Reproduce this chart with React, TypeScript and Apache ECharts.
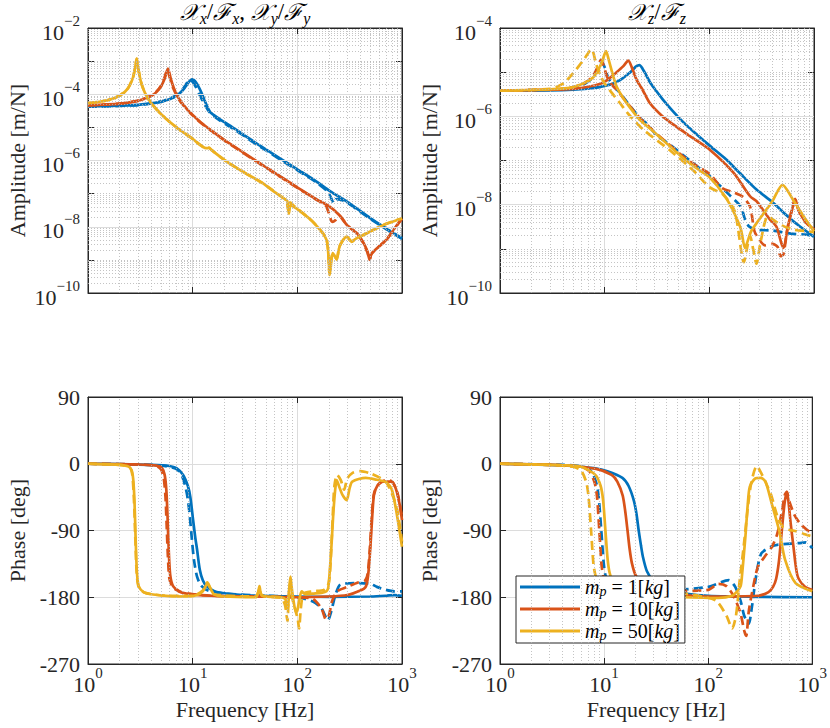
import { useEffect, useRef } from "react";
import * as echarts from "echarts";

type P = [number, number][];

const BLUE = "#0072BD";
const ORANGE = "#D95319";
const YELLOW = "#EDB120";
const FONT = "'Liberation Serif', 'Times New Roman', serif";
const INK = "#262626";

const massLabels = ["1", "10", "50"];
const freqTickExps = [0, 1, 2, 3];
const ampXYTickExps = [-10, -8, -6, -4, -2];
const ampZTickExps = [-10, -8, -6, -4];
const phaseTicks = [-270, -180, -90, 0, 90];

// ---------- Amplitude X/Y (top-left) ----------
const ampXY_m1: P = [[1,4.3e-5],[2,4.5e-5],[3,4.8e-5],[4,5.3e-5],[5,6.0e-5],[6,7.1e-5],[7,8.9e-5],[8,1.3e-4],[8.6,1.75e-4],[9.2,2.35e-4],[9.8,2.8e-4],[10.4,2.6e-4],[11,2.05e-4],[12,1.2e-4],[13,6.5e-5],[14.6,3.0e-5],[18,1.8e-5],[24,1.0e-5],[30,6.3e-6],[40,3.4e-6],[55,1.78e-6],[70,1.1e-6],[100,5.4e-7],[150,2.4e-7],[205,1.2e-7],[300,5.6e-8],[500,1.8e-8],[700,9.1e-9],[1000,4.5e-9]];
const ampXY_m1_d: P = [[1,4.2e-5],[3,4.7e-5],[5,6.0e-5],[7,9.3e-5],[8,1.4e-4],[8.6,1.95e-4],[9.1,2.5e-4],[9.5,2.65e-4],[10,2.35e-4],[10.8,1.6e-4],[11.5,1.05e-4],[12.5,6.2e-5],[14.6,2.8e-5],[18,1.65e-5],[24,9.3e-6],[30,5.9e-6],[40,3.2e-6],[55,1.68e-6],[70,1.03e-6],[100,5.1e-7],[150,2.25e-7],[195,1.15e-7],[210,7.5e-8],[222,5.2e-8],[235,6.8e-8],[260,6.6e-8],[300,5.3e-8],[500,1.72e-8],[700,8.7e-9],[1000,4.3e-9]];
const ampXY_m10: P = [[1,4.6e-5],[2,5.2e-5],[3,6.3e-5],[4,8.8e-5],[4.5,1.16e-4],[5,1.75e-4],[5.4,3.0e-4],[5.8,5.9e-4],[6.2,2.8e-4],[6.6,1.55e-4],[7.5,6.8e-5],[9,3.3e-5],[10,2.35e-5],[12,1.4e-5],[15,8.1e-6],[20,4.2e-6],[30,1.8e-6],[50,6.3e-7],[70,3.2e-7],[100,1.55e-7],[150,6.9e-8],[205,4.0e-8],[250,2.3e-8],[300,1.1e-8],[372,6.3e-9],[430,3.2e-9],[470,1.7e-9],[490,1.0e-9],[510,1.5e-9],[600,2.5e-9],[708,4.0e-9],[850,9.0e-9],[1000,1.78e-8]];
const ampXY_m10_d: P = [[1,4.6e-5],[2,5.2e-5],[3,6.4e-5],[4,9.0e-5],[4.5,1.2e-4],[5,1.85e-4],[5.35,3.0e-4],[5.7,5.2e-4],[6.1,2.9e-4],[6.5,1.55e-4],[7.5,6.5e-5],[9,3.2e-5],[10,2.3e-5],[12,1.35e-5],[15,7.9e-6],[20,4.1e-6],[30,1.75e-6],[50,6.1e-7],[70,3.1e-7],[100,1.5e-7],[150,6.7e-8],[185,4.6e-8],[200,2.6e-8],[215,1.4e-8],[232,1.6e-8],[250,2.2e-8],[300,1.1e-8],[372,6.2e-9],[430,3.1e-9],[470,1.6e-9],[490,1.0e-9],[510,1.5e-9],[600,2.5e-9],[708,4.0e-9],[850,8.8e-9],[1000,1.75e-8]];
const ampXY_m50: P = [[1,5.4e-5],[1.5,6.5e-5],[2,9.0e-5],[2.4,1.48e-4],[2.7,3.3e-4],[2.85,7.8e-4],[2.92,1.2e-3],[3.0,6.9e-4],[3.2,2.4e-4],[3.5,1.1e-4],[4,5.5e-5],[5,2.5e-5],[7,1.0e-5],[10,4.5e-6],[13.5,2.35e-6],[14.3,2.4e-6],[15.2,2.05e-6],[20,1.05e-6],[30,4.6e-7],[47,2.05e-7],[60,1.15e-7],[75,7.0e-8],[80,6.0e-8],[83,2.5e-8],[86,4.5e-8],[90,4.2e-8],[99,3.5e-8],[141,1.4e-8],[190,4.0e-9],[204,3.5e-10],[212,1.0e-9],[218,1.6e-9],[228,1.3e-9],[238,1.0e-9],[250,2.2e-9],[263,3.2e-9],[295,5.0e-9],[331,3.5e-9],[360,4.3e-9],[427,5.6e-9],[661,1.12e-8],[1000,1.78e-8]];
const ampXY_m50_d: P = [[1,5.4e-5],[1.5,6.5e-5],[2,9.1e-5],[2.4,1.5e-4],[2.7,3.4e-4],[2.85,8.0e-4],[2.92,1.18e-3],[3.0,6.8e-4],[3.2,2.4e-4],[3.5,1.1e-4],[4,5.5e-5],[5,2.5e-5],[7,1.0e-5],[10,4.5e-6],[13.5,2.35e-6],[14.3,2.45e-6],[15.2,2.05e-6],[20,1.05e-6],[30,4.6e-7],[47,2.05e-7],[60,1.15e-7],[75,7.0e-8],[79,6.2e-8],[82,3.0e-8],[85,5.5e-8],[92,4.4e-8],[100,3.5e-8],[141,1.4e-8],[190,4.2e-9],[203,4.0e-10],[211,1.1e-9],[218,1.5e-9],[229,1.2e-9],[238,1.1e-9],[250,2.3e-9],[263,3.3e-9],[295,5.1e-9],[331,3.6e-9],[360,4.4e-9],[427,5.7e-9],[661,1.13e-8],[1000,1.8e-8]];

// ---------- Amplitude Z (top-right) ----------
const ampZ_m1: P = [[1,3.8e-6],[3,3.85e-6],[5,4.0e-6],[8,4.4e-6],[10,4.9e-6],[12,5.5e-6],[14,6.6e-6],[16,8.3e-6],[18,1.05e-5],[20,1.35e-5],[21.5,1.45e-5],[23,1.2e-5],[25,8.5e-6],[27,6.0e-6],[30,4.2e-6],[36,2.4e-6],[45,1.3e-6],[56,7.5e-7],[70,4.6e-7],[100,2.2e-7],[145,1.05e-7],[195,5.2e-8],[282,2.2e-8],[400,1.15e-8],[513,6.6e-9],[700,3.5e-9],[1000,1.86e-9]];
const ampZ_m1_d: P = [[1,3.8e-6],[4,4.15e-6],[6,5.0e-6],[7.5,7.0e-6],[8.5,1.1e-5],[9.4,1.7e-5],[10,1.3e-5],[10.8,7.5e-6],[12,5.0e-6],[14,3.4e-6],[17.4,1.75e-6],[22,9.0e-7],[25,7.0e-7],[32,3.6e-7],[42,2.3e-7],[65,1.0e-7],[100,4.5e-8],[158,1.6e-8],[200,9.0e-9],[220,4.5e-9],[240,3.2e-9],[282,2.7e-9],[400,2.6e-9],[600,2.2e-9],[850,2.1e-9],[1000,1.9e-9]];
const ampZ_m10: P = [[1,3.85e-6],[5,4.2e-6],[8,5.0e-6],[10,6.0e-6],[13,1.0e-5],[15,1.35e-5],[16.8,1.82e-5],[18.5,1.15e-5],[20.2,6.7e-6],[23,4.0e-6],[27,2.0e-6],[35,1.05e-6],[48,5.9e-7],[70,3.2e-7],[101,1.75e-7],[170,5.3e-8],[245,1.55e-8],[282,1.2e-8],[380,4.6e-9],[437,3.2e-9],[490,1.3e-9],[513,1.05e-9],[560,3.0e-9],[620,8.0e-9],[660,1.35e-8],[720,7.0e-9],[850,3.8e-9],[1000,2.75e-9]];
const ampZ_m10_d: P = [[1,3.8e-6],[4,4.2e-6],[6,5.2e-6],[7.5,7.5e-6],[8.5,1.25e-5],[9.2,1.9e-5],[9.8,1.4e-5],[10.5,8.0e-6],[11.5,5.5e-6],[13,4.0e-6],[17.4,1.7e-6],[22,8.8e-7],[29,4.8e-7],[42,2.2e-7],[65,9.5e-8],[100,5.0e-8],[132,2.4e-8],[170,1.9e-8],[209,1.5e-8],[245,9.0e-9],[270,2.5e-9],[300,1.6e-9],[340,1.2e-9],[400,1.3e-9],[450,1.1e-9],[480,6.8e-10],[510,7.5e-10],[560,3.0e-9],[620,8.5e-9],[660,1.3e-8],[720,7.0e-9],[850,3.8e-9],[1000,2.75e-9]];
const ampZ_m50: P = [[1,3.8e-6],[3,4.1e-6],[5,4.6e-6],[7.2,6.6e-6],[8.5,1.0e-5],[9.5,1.8e-5],[10.3,3.0e-5],[11,1.8e-5],[12,8.5e-6],[13,4.7e-6],[15,2.6e-6],[17.4,1.6e-6],[21.7,8.3e-7],[29,4.6e-7],[42,2.1e-7],[60,1.0e-7],[82,5.8e-8],[100,4.2e-8],[140,1.6e-8],[170,7.0e-9],[200,2.8e-9],[219,1.05e-9],[235,1.6e-9],[251,2.5e-9],[316,5.5e-9],[400,1.2e-8],[500,2.8e-8],[630,1.3e-8],[794,5.5e-9],[1000,2.5e-9]];
const ampZ_m50_d: P = [[1,3.8e-6],[3,4.2e-6],[4,5.5e-6],[5,9.5e-6],[6.3,1.9e-5],[7.5,3.3e-5],[8.3,1.5e-5],[9.2,8.0e-6],[10,5.5e-6],[14,2.0e-6],[17,1.1e-6],[23.4,5.0e-7],[42,1.7e-7],[70,6.0e-8],[100,2.5e-8],[135,1.7e-8],[175,7.0e-9],[214,5.0e-10],[232,1.2e-9],[245,2.0e-9],[262,1.0e-9],[282,4.6e-10],[310,1.5e-9],[363,5.4e-9],[480,3.5e-9],[630,2.75e-9],[850,2.5e-9],[1000,2.4e-9]];

// ---------- Phase X/Y (bottom-left) ----------
const phXY_m1: P = [[1,0],[2,-0.5],[4,-1.5],[6,-3],[7,-6],[8.1,-15],[9,-30],[9.5,-45],[10.1,-76],[10.6,-100],[11,-115],[11.7,-143],[12.5,-157],[13.6,-165],[17,-173],[30,-177],[60,-178.5],[100,-179],[200,-179.5],[500,-179],[700,-178],[850,-177],[1000,-178]];
const phXY_m1_d: P = [[1,0],[3,-1],[5,-2.5],[7,-7],[8,-18],[8.8,-40],[9.3,-65],[9.8,-100],[10.3,-130],[11,-152],[12,-164],[14,-171],[20,-175],[50,-178],[100,-180],[142,-186],[170,-195],[196,-211],[210,-200],[230,-178],[257,-163],[350,-161],[500,-162],[575,-166],[700,-170],[850,-172],[1000,-172]];
const phXY_m10: P = [[1,0],[3,-1],[4.5,-2.5],[5.1,-6],[5.4,-15],[5.6,-35],[5.75,-70],[5.9,-115],[6.1,-150],[6.5,-165],[7.5,-172],[8.7,-175],[15,-178],[40,-179],[100,-180],[200,-179],[300,-177],[400,-171],[450,-166],[475,-150],[500,-110],[520,-70],[540,-42],[580,-30],[660,-24],[800,-24],[880,-35],[950,-55],[1000,-76]];
const phXY_m10_d: P = [[1,0],[3,-1],[4.5,-3],[5.0,-8],[5.3,-20],[5.5,-45],[5.65,-85],[5.8,-125],[6.0,-155],[6.5,-167],[8,-174],[15,-178],[50,-179],[100,-180],[140,-182],[170,-195],[188,-210],[200,-205],[215,-185],[240,-172],[300,-166],[380,-160],[440,-158],[470,-148],[495,-110],[515,-70],[540,-40],[600,-27],[700,-22],[800,-24],[900,-38],[1000,-72]];
const phXY_m50: P = [[1,0],[1.5,-0.8],[2,-1.5],[2.4,-3.5],[2.6,-8],[2.7,-20],[2.78,-50],[2.85,-100],[2.93,-145],[3.05,-165],[3.4,-173],[4,-176],[6,-178.5],[9,-179],[11,-177],[12.5,-172],[13.8,-162],[14.5,-166],[16,-176],[20,-179],[40,-180],[42,-175],[43.5,-165],[45,-176],[50,-179],[70,-180],[77,-183],[81,-195],[84,-165],[86,-152],[88,-165],[92,-185],[97,-200],[100,-198],[104,-185],[110,-172],[120,-176],[140,-175],[170,-174],[190,-172],[198,-166],[210,-120],[220,-70],[230,-35],[238,-22],[250,-30],[270,-42],[296,-49],[316,-33],[335,-24],[450,-19],[550,-21],[708,-25],[800,-35],[890,-67],[1000,-112]];
const phXY_m50_d: P = [[1,0],[2,-1.5],[2.5,-5],[2.65,-15],[2.75,-50],[2.83,-100],[2.92,-148],[3.05,-166],[3.5,-174],[6,-178],[10,-178],[12.5,-171],[13.8,-160],[14.8,-168],[16,-176],[40,-179],[43.5,-168],[46,-178],[70,-181],[76,-190],[79,-205],[80.5,-212],[83,-175],[86,-160],[89,-180],[95,-195],[101,-210],[104,-222],[108,-195],[115,-175],[140,-172],[180,-170],[200,-160],[210,-120],[218,-70],[226,-30],[240,-15],[260,-22],[280,-35],[300,-20],[340,-12],[400,-10],[500,-13],[600,-18],[700,-24],[800,-40],[900,-62],[1000,-105]];

// ---------- Phase Z (bottom-right) ----------
const phZ_m1: P = [[1,0],[3,-1.5],[5,-3],[8,-6],[10.75,-10],[15,-19],[17.2,-30],[19.35,-50],[20.5,-68],[21.5,-90],[22.6,-110],[23.65,-126],[25.8,-145],[30,-159],[35,-166],[43,-171],[60,-175],[100,-178],[300,-179.5],[1000,-180]];
const phZ_m1_d: P = [[1,0],[4,-1.5],[6,-3.5],[7.5,-10],[8.5,-28],[8.9,-47],[9.4,-90],[9.9,-133],[10.3,-150],[11.3,-163],[14,-170],[20,-171],[50,-170],[100,-166],[158,-157],[182,-166],[205,-185],[222,-205],[245,-216],[262,-195],[290,-150],[324,-121],[400,-112],[473,-109],[741,-107],[870,-106],[1000,-114]];
const phZ_m10: P = [[1,0],[4,-2],[8.4,-7],[11.8,-15],[13.4,-24],[15.1,-43],[16,-65],[16.8,-90],[17.6,-115],[18.5,-134],[20.2,-151],[25,-165],[34,-173],[60,-177],[100,-179],[300,-178],[380,-173],[420,-166],[450,-155],[480,-130],[510,-90],[540,-55],[569,-38],[590,-50],[620,-80],[660,-112],[724,-152],[850,-166],[1000,-170]];
const phZ_m10_d: P = [[1,0],[4,-2],[6,-4],[7.2,-10],[8.1,-25],[8.55,-44],[9,-90],[9.45,-136],[9.9,-153],[10.8,-164],[13.5,-172],[20,-174],[40,-172],[100,-170],[126,-162],[150,-165],[175,-178],[204,-201],[222,-225],[232,-232],[245,-200],[263,-175],[300,-139],[350,-125],[410,-112],[460,-95],[510,-65],[545,-42],[570,-38],[600,-50],[680,-70],[780,-82],[1000,-95]];
const phZ_m50: P = [[1,0],[4,-2],[6,-4],[8.24,-15],[9.27,-30],[9.8,-50],[10.3,-90],[10.8,-128],[11.3,-147],[12.4,-161],[15.5,-171.5],[20.6,-176],[42,-179],[126,-181],[170,-178],[190,-172],[205,-165],[211,-152],[228,-98],[240,-55],[251,-31],[282,-20],[320,-19],[355,-24],[407,-53],[479,-89],[550,-130],[692,-161],[1000,-172]];
const phZ_m50_d: P = [[1,0],[3,-1.5],[5,-4],[6,-9],[6.75,-25],[7.1,-45],[7.5,-90],[7.9,-135],[8.25,-150],[9,-163],[11.3,-170],[20,-172],[50,-174],[87,-179],[120,-185],[150,-205],[170,-222],[185,-205],[200,-160],[220,-110],[240,-60],[260,-25],[293,-3],[330,-15],[370,-30],[407,-44],[460,-70],[520,-85],[600,-89],[700,-91],[850,-95],[1000,-98]];

const panels: { solid: P[]; dashed: P[] }[] = [
  { solid: [ampXY_m1, ampXY_m10, ampXY_m50], dashed: [ampXY_m1_d, ampXY_m10_d, ampXY_m50_d] },
  { solid: [ampZ_m1, ampZ_m10, ampZ_m50], dashed: [ampZ_m1_d, ampZ_m10_d, ampZ_m50_d] },
  { solid: [phXY_m1, phXY_m10, phXY_m50], dashed: [phXY_m1_d, phXY_m10_d, phXY_m50_d] },
  { solid: [phZ_m1, phZ_m10, phZ_m50], dashed: [phZ_m1_d, phZ_m10_d, phZ_m50_d] },
];
const colors = [BLUE, ORANGE, YELLOW];

const grids = [
  { left: 88, top: 28, width: 314, height: 265 },
  { left: 500, top: 28, width: 314, height: 265 },
  { left: 88, top: 397, width: 314, height: 267 },
  { left: 500, top: 397, width: 314, height: 267 },
];

const fmtExp = (e: number) => (e < 0 ? "\u2212" + Math.abs(e) : String(e));
const expRich = {
  b: { fontFamily: FONT, fontSize: 22, color: INK, lineHeight: 30, verticalAlign: "bottom" },
  e: { fontFamily: FONT, fontSize: 15, color: INK, lineHeight: 10, verticalAlign: "top" },
};

const decadeMinors = (lo: number, hi: number) => {
  const out: number[] = [];
  for (let k = lo; k < hi; k++) for (let m = 2; m <= 9; m++) out.push(m * Math.pow(10, k));
  return out;
};

const minorStyle = { type: [1, 2], color: "#b5b5b5", width: 0.8 };
const majorStyle = { type: "solid", color: "#dcdcdc", width: 1 };

function gridSeries(idx: number, yRange: [number, number], yMinor: number[], yMajor: number[]) {
  const xLo = Math.pow(10, freqTickExps[0]);
  const xHi = Math.pow(10, freqTickExps[freqTickExps.length - 1]);
  const xMinor = decadeMinors(freqTickExps[0], freqTickExps[freqTickExps.length - 1]);
  const vLine = (v: number, ls: any) => [{ coord: [v, yRange[0]], lineStyle: ls }, { coord: [v, yRange[1]] }];
  const hLine = (v: number, ls: any) => [{ coord: [xLo, v], lineStyle: ls }, { coord: [xHi, v] }];
  return {
    type: "line",
    xAxisIndex: idx,
    yAxisIndex: idx,
    data: [],
    silent: true,
    z: 1,
    markLine: {
      silent: true,
      symbol: ["none", "none"],
      label: { show: false },
      animation: false,
      emphasis: { disabled: true },
      data: [
        ...xMinor.map((v) => vLine(v, minorStyle)),
        ...yMinor.map((v) => hLine(v, minorStyle)),
        ...yMajor.map((v) => hLine(v, majorStyle)),
      ],
    },
  };
}

function lineSeries(name: string, data: P, color: string, dashed: boolean, idx: number) {
  return {
    type: "line",
    name,
    data,
    xAxisIndex: idx,
    yAxisIndex: idx,
    symbol: "none",
    showSymbol: false,
    smooth: 0.25,
    silent: true,
    z: 3,
    clip: true,
    lineStyle: { color, width: 2.7, type: dashed ? [9, 5] : "solid", cap: "butt" },
    itemStyle: { color },
    emphasis: { disabled: true },
  };
}

function buildOption() {
  const series: any[] = [];
  const xyOdd = ampXYTickExps.slice(0, -1).map((e) => Math.pow(10, e + 1));
  const zOdd = ampZTickExps.slice(0, -1).map((e) => Math.pow(10, e + 1));
  const xyRange: [number, number] = [Math.pow(10, ampXYTickExps[0]), Math.pow(10, ampXYTickExps[ampXYTickExps.length - 1])];
  const zRange: [number, number] = [Math.pow(10, ampZTickExps[0]), Math.pow(10, ampZTickExps[ampZTickExps.length - 1])];
  const phRange: [number, number] = [phaseTicks[0], phaseTicks[phaseTicks.length - 1]];
  series.push(gridSeries(0, xyRange, [...decadeMinors(-10, -2), ...xyOdd], ampXYTickExps.slice(1, -1).map((e) => Math.pow(10, e))));
  series.push(gridSeries(1, zRange, [...decadeMinors(-10, -4), ...zOdd], ampZTickExps.slice(1, -1).map((e) => Math.pow(10, e))));
  series.push(gridSeries(2, phRange, [], []));
  series.push(gridSeries(3, phRange, [], []));

  panels.forEach((p, idx) => {
    for (let k = 0; k < 3; k++) {
      series.push(lineSeries("mp" + massLabels[k], p.solid[k], colors[k], false, idx));
      series.push(lineSeries("mp" + massLabels[k] + "d", p.dashed[k], colors[k], true, idx));
    }
  });

  const nameStyle = { fontFamily: FONT, fontSize: 22, color: INK };
  const tickStyle = { show: true, inside: true, length: 6, lineStyle: { color: INK, width: 1 } };
  const lineAx = { show: true, onZero: false, lineStyle: { color: INK, width: 1 } };

  const xMain = grids.map((_, i) => ({
    type: "log",
    logBase: 10,
    gridIndex: i,
    position: "bottom",
    min: Math.pow(10, freqTickExps[0]),
    max: Math.pow(10, freqTickExps[freqTickExps.length - 1]),
    axisLine: lineAx,
    axisTick: tickStyle,
    axisLabel: {
      show: i >= 2,
      margin: 1,
      showMinLabel: true,
      showMaxLabel: true,
      formatter: (v: number) => `{b|10}{e|${fmtExp(Math.round(Math.log10(v)))}}`,
      rich: expRich,
    },
    splitLine: { show: true, lineStyle: { color: "#dcdcdc", width: 1 } },
    name: i >= 2 ? "Frequency [Hz]" : "",
    nameLocation: "middle",
    nameGap: 34,
    nameTextStyle: nameStyle,
  }));
  const xTop = grids.map((_, i) => ({
    type: "log",
    logBase: 10,
    gridIndex: i,
    position: "top",
    min: Math.pow(10, freqTickExps[0]),
    max: Math.pow(10, freqTickExps[freqTickExps.length - 1]),
    axisLine: lineAx,
    axisTick: tickStyle,
    axisLabel: { show: false },
    splitLine: { show: false },
  }));

  const ampAxis = (i: number, exps: number[]) => ({
    type: "log",
    logBase: 10,
    gridIndex: i,
    position: "left",
    min: Math.pow(10, exps[0]),
    max: Math.pow(10, exps[exps.length - 1]),
    axisLine: lineAx,
    axisTick: tickStyle,
    axisLabel: {
      margin: 8,
      showMinLabel: true,
      showMaxLabel: true,
      formatter: (v: number) => {
        const e = Math.round(Math.log10(v));
        return exps.includes(e) ? `{b|10}{e|${fmtExp(e)}}` : "";
      },
      rich: expRich,
    },
    splitLine: { show: false },
    name: "Amplitude [m/N]",
    nameLocation: "middle",
    nameGap: 60,
    nameRotate: 90,
    nameTextStyle: nameStyle,
  });
  const ampRight = (i: number, exps: number[]) => ({
    type: "log",
    logBase: 10,
    gridIndex: i,
    position: "right",
    min: Math.pow(10, exps[0]),
    max: Math.pow(10, exps[exps.length - 1]),
    axisLine: lineAx,
    axisTick: tickStyle,
    axisLabel: { show: false },
    splitLine: { show: false },
  });

  const phaseAxis = (i: number) => ({
    type: "value",
    gridIndex: i,
    position: "left",
    min: phaseTicks[0],
    max: phaseTicks[phaseTicks.length - 1],
    interval: 90,
    axisLine: lineAx,
    axisTick: tickStyle,
    axisLabel: { margin: 8, fontFamily: FONT, fontSize: 22, color: INK, formatter: (v: number) => String(v) },
    splitLine: { show: true, lineStyle: { color: "#dcdcdc", width: 1 } },
    name: "Phase [deg]",
    nameLocation: "middle",
    nameGap: 60,
    nameRotate: 90,
    nameTextStyle: nameStyle,
  });
  const phaseRight = (i: number) => ({
    type: "value",
    gridIndex: i,
    position: "right",
    min: phaseTicks[0],
    max: phaseTicks[phaseTicks.length - 1],
    interval: 90,
    axisLine: lineAx,
    axisTick: tickStyle,
    axisLabel: { show: false },
    splitLine: { show: false },
  });

  const xAxis = [...xMain, ...xTop];
  const yAxis = [
    ampAxis(0, ampXYTickExps), ampAxis(1, ampZTickExps), phaseAxis(2), phaseAxis(3),
    ampRight(0, ampXYTickExps), ampRight(1, ampZTickExps), phaseRight(2), phaseRight(3),
  ];

  const titleRich = {
    c: { fontFamily: "'DejaVu Serif', serif", fontStyle: "italic", fontSize: 23, fill: "#000", lineHeight: 26, verticalAlign: "top" },
    s: { fontFamily: FONT, fontStyle: "italic", fontSize: 16, fill: "#000", lineHeight: 14, verticalAlign: "bottom" },
    n: { fontFamily: FONT, fontSize: 23, fill: "#000", lineHeight: 26, verticalAlign: "top" },
  };

  return {
    animation: false,
    backgroundColor: "#ffffff",
    grid: grids.map((g) => ({ ...g, show: true, borderColor: INK, borderWidth: 1, backgroundColor: "rgba(0,0,0,0)", containLabel: false })),
    xAxis,
    yAxis,
    series,
    legend: {
      show: true,
      data: massLabels.map((m) => ({ name: "mp" + m, icon: "rect" })),
      orient: "vertical",
      left: 516,
      top: 576,
      itemWidth: 60,
      itemHeight: 3,
      itemGap: 1,
      padding: [1, 5, 1, 4],
      selectedMode: false,
      backgroundColor: "#ffffff",
      borderColor: INK,
      borderWidth: 1,
      borderRadius: 0,
      formatter: (name: string) => {
        const m = name.replace("mp", "");
        return `{i|m}{p|p}{n| = ${m}[}{i|kg}{n|]}`;
      },
      textStyle: {
        fontFamily: FONT,
        fontSize: 20,
        color: "#000",
        rich: {
          i: { fontFamily: FONT, fontStyle: "italic", fontSize: 20, color: "#000", lineHeight: 22 },
          p: { fontFamily: FONT, fontStyle: "italic", fontSize: 14, color: "#000", lineHeight: 12, verticalAlign: "bottom" },
          n: { fontFamily: FONT, fontSize: 20, color: "#000", lineHeight: 22 },
        },
      },
    },
    graphic: [
      {
        type: "text",
        x: 245,
        y: 0,
        silent: true,
        style: {
          text: "{c|\u{1D4B3}}{s|x}{n|/}{c|\u2131}{s|x}{n|, }{c|\u{1D4B3}}{s|y}{n|/}{c|\u2131}{s|y}",
          rich: titleRich,
          align: "center",
          textAlign: "center",
          verticalAlign: "top",
        },
      },
      {
        type: "text",
        x: 657,
        y: 0,
        silent: true,
        style: {
          text: "{c|\u{1D4B3}}{s|z}{n|/}{c|\u2131}{s|z}",
          rich: titleRich,
          align: "center",
          textAlign: "center",
          verticalAlign: "top",
        },
      },
    ],
  };
}

export default function App() {
  const ref = useRef<HTMLDivElement>(null);
  useEffect(() => {
    if (!ref.current) return;
    const chart = echarts.init(ref.current, undefined, { renderer: "svg" });
    chart.setOption(buildOption() as any);
    return () => chart.dispose();
  }, []);
  return (
    <div
      ref={ref}
      style={{ position: "fixed", left: 0, top: 0, width: 830, height: 728, background: "#fff" }}
    />
  );
}
